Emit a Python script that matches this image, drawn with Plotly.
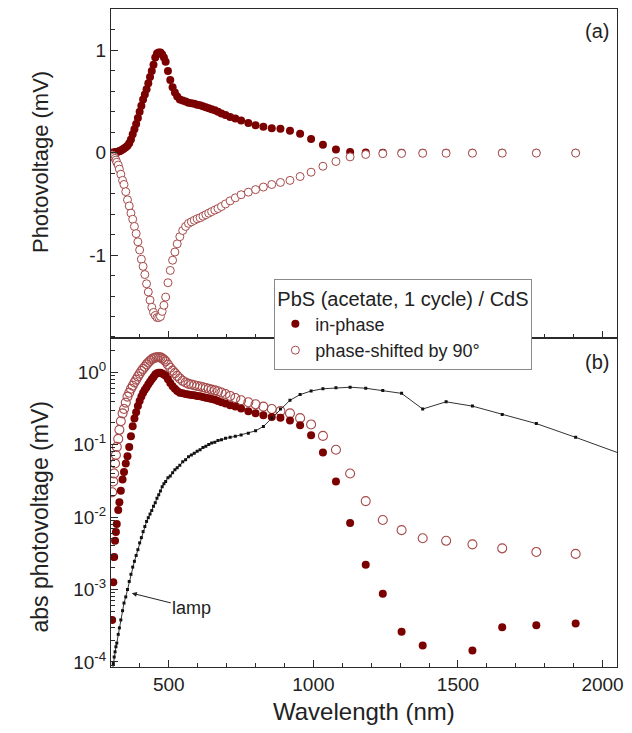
import numpy as np
import plotly.graph_objects as go

# ---------------- data ----------------
wavelength = [304, 308, 311, 314, 317, 320, 325, 329, 334, 340, 345, 351, 357, 363, 369,
              375, 381, 387, 393, 399, 405, 411, 417, 423, 429, 435, 441, 447, 453, 459,
              465, 471, 477, 483, 489, 497, 505, 513, 521, 529, 538, 548, 558, 568, 578,
              588, 598, 608, 618, 628, 638, 648, 659, 670, 682, 696, 712, 730, 750, 775,
              800, 827, 856, 886, 919, 954, 992, 1033, 1078, 1127, 1181, 1240, 1305, 1378,
              1459, 1550, 1653, 1771, 1907]

in_phase = [0.00038, 0.00126, 0.0028, 0.0047, 0.0062, 0.008, 0.0125, 0.016, 0.023, 0.033,
            0.042, 0.055, 0.069, 0.093, 0.13, 0.18, 0.23, 0.28, 0.34, 0.40,
            0.46, 0.52, 0.57, 0.62, 0.68, 0.74, 0.80, 0.86, 0.93, 0.97,
            0.98, 0.98, 0.96, 0.93, 0.89, 0.80, 0.71, 0.64, 0.59, 0.55,
            0.52, 0.51, 0.50, 0.49, 0.485, 0.48, 0.47, 0.465, 0.455, 0.445,
            0.435, 0.425, 0.415, 0.40, 0.385, 0.37, 0.35, 0.335, 0.315, 0.29,
            0.27, 0.255, 0.24, 0.235, 0.215, 0.185, 0.135, 0.078, 0.031, 0.0083,
            0.0022, 0.00087, 0.00026, 0.000168, 0.00006, 0.000144, 0.0003, 0.00032, 0.00034]

phase_90 = [-0.022, -0.031, -0.040, -0.055, -0.072, -0.093, -0.12, -0.16, -0.21, -0.27,
            -0.31, -0.38, -0.46, -0.52, -0.59, -0.65, -0.72, -0.79, -0.87, -0.95,
            -1.04, -1.11, -1.19, -1.28, -1.36, -1.44, -1.51, -1.56, -1.59, -1.61,
            -1.61, -1.60, -1.55, -1.49, -1.41, -1.27, -1.15, -1.05, -0.97, -0.89,
            -0.82, -0.76, -0.72, -0.69, -0.675, -0.66, -0.645, -0.635, -0.62, -0.605,
            -0.59, -0.575, -0.56, -0.545, -0.525, -0.50, -0.47, -0.44, -0.41, -0.385,
            -0.36, -0.335, -0.31, -0.29, -0.27, -0.232, -0.19, -0.132, -0.085, -0.040,
            -0.0166, -0.0091, -0.0066, -0.0051, -0.0047, -0.0042, -0.0037, -0.0033, -0.0031]

lamp_wavelength = wavelength + [2066]
lamp = [7.1e-5, 9.5e-5, 1.17e-4, 1.38e-4, 1.62e-4, 1.82e-4, 2.4e-4, 2.95e-4, 3.8e-4, 5.1e-4,
        6.5e-4, 7.9e-4, 1.0e-3, 1.29e-3, 1.62e-3, 2.04e-3, 2.45e-3, 2.95e-3, 3.55e-3, 4.4e-3,
        5.2e-3, 6.3e-3, 7.4e-3, 8.7e-3, 9.8e-3, 1.1e-2, 1.23e-2, 1.41e-2, 1.58e-2, 1.82e-2,
        2.04e-2, 2.29e-2, 2.63e-2, 2.88e-2, 3.1e-2, 3.5e-2, 3.7e-2, 4.1e-2, 4.5e-2, 4.8e-2,
        5.2e-2, 5.8e-2, 6.2e-2, 6.8e-2, 7.2e-2, 7.6e-2, 8.1e-2, 8.5e-2, 9.1e-2, 9.5e-2,
        0.100, 0.105, 0.108, 0.114, 0.117, 0.122, 0.126, 0.130, 0.136, 0.143,
        0.155, 0.178, 0.234, 0.31, 0.41, 0.49, 0.55, 0.59, 0.61, 0.62,
        0.60, 0.56, 0.51, 0.31, 0.39, 0.34, 0.26, 0.195, 0.126, 0.074]

x_major_ticks = [500, 1000, 1500, 2000]
y_top_ticks = [-1, 0, 1]
y_top_labels = ["-1", "0", "1"]
y_log_ticks = [1e-4, 1e-3, 1e-2, 1e-1, 1]
y_log_labels = ["10<sup>-4</sup>", "10<sup>-3</sup>", "10<sup>-2</sup>",
                "10<sup>-1</sup>", "10<sup>0</sup>"]
legend_title = "PbS (acetate, 1 cycle) / CdS"
names = ["in-phase", "phase-shifted by 90°"]

# ---------------- styling ----------------
FILL = "#7b0000"
RING = "#a64a4a"
AXC = "#2a2a2a"
FONT = "Liberation Sans, Arial, sans-serif"
TICKF = 19

fig = go.Figure()

# top panel
fig.add_trace(go.Scatter(x=wavelength, y=in_phase, mode="markers", name=names[0],
                         marker=dict(size=8, color=FILL), xaxis="x", yaxis="y"))
fig.add_trace(go.Scatter(x=wavelength, y=phase_90, mode="markers", name=names[1],
                         marker=dict(size=8, color="white", line=dict(color=RING, width=1)),
                         xaxis="x", yaxis="y"))

# bottom panel
fig.add_trace(go.Scatter(x=wavelength, y=np.abs(phase_90), mode="markers", showlegend=False,
                         marker=dict(size=9, symbol="circle-open", color=RING, line=dict(width=1.1)),
                         xaxis="x2", yaxis="y2"))
fig.add_trace(go.Scatter(x=wavelength, y=np.abs(in_phase), mode="markers", showlegend=False,
                         marker=dict(size=8, color=FILL), xaxis="x2", yaxis="y2"))
fig.add_trace(go.Scatter(x=lamp_wavelength, y=lamp, mode="lines+markers", showlegend=False,
                         line=dict(color="#333333", width=1),
                         marker=dict(size=3, symbol="square", color="#111111"),
                         xaxis="x2", yaxis="y2"))

split = 329 / 659.0
minor_log = [m * 10.0 ** e for e in range(-5, 1) for m in range(2, 10)]

common_x = dict(range=[300, 2050], showline=True, mirror=True, linecolor=AXC, linewidth=1,
                ticks="inside", ticklen=7, tickcolor=AXC,
                tickmode="array", tickvals=x_major_ticks,
                minor=dict(ticks="inside", ticklen=4, dtick=100, tick0=0, tickcolor=AXC),
                showgrid=False, zeroline=False, tickfont=dict(size=TICKF))

fig.update_layout(
    width=632, height=733,
    margin=dict(l=111, r=13, t=8, b=66),
    paper_bgcolor="white", plot_bgcolor="white",
    font=dict(family=FONT, color="#222222", size=17),
    xaxis=dict(domain=[0, 1], anchor="y", showticklabels=False, **common_x),
    xaxis2=dict(domain=[0, 1], anchor="y2", showticklabels=True, **common_x),
    yaxis=dict(domain=[split, 1], anchor="x", range=[-1.815, 1.405],
               tickmode="array", tickvals=y_top_ticks, ticktext=y_top_labels,
               showline=True, mirror=True, linecolor=AXC, linewidth=1,
               ticks="inside", ticklen=7, tickcolor=AXC,
               minor=dict(ticks="inside", ticklen=4, dtick=0.2, tick0=0, tickcolor=AXC),
               showgrid=False, zeroline=False, tickfont=dict(size=TICKF)),
    yaxis2=dict(domain=[0, split], anchor="x2", type="log", range=[-4.07, 0.465],
                tickmode="array", tickvals=y_log_ticks, ticktext=y_log_labels,
                showline=True, mirror=True, linecolor=AXC, linewidth=1,
                ticks="inside", ticklen=7, tickcolor=AXC,
                minor=dict(ticks="inside", ticklen=4, tickmode="array", tickvals=minor_log,
                           tickcolor=AXC),
                showgrid=False, zeroline=False, tickfont=dict(size=TICKF)),
    legend=dict(x=(275 - 111) / 508.0, y=(667 - 278) / 659.0, xanchor="left", yanchor="top",
                bgcolor="white", bordercolor="#8a8a8a", borderwidth=1,
                title=dict(text=legend_title, font=dict(size=20)),
                font=dict(size=18), tracegroupgap=0),
    showlegend=True,
    annotations=[
        dict(text="(a)", xref="paper", yref="paper", x=0.988, y=(667 - 30) / 659.0,
             xanchor="right", yanchor="middle", showarrow=False, font=dict(size=20)),
        dict(text="(b)", xref="paper", yref="paper", x=0.988, y=(667 - 362) / 659.0,
             xanchor="right", yanchor="middle", showarrow=False, font=dict(size=20)),
        dict(text="Photovoltage (mV)", xref="paper", yref="paper", x=(40 - 111) / 508.0,
             y=(667 - 161) / 659.0, textangle=-90, showarrow=False, font=dict(size=22),
             xanchor="center", yanchor="middle"),
        dict(text="abs photovoltage (mV)", xref="paper", yref="paper", x=(40 - 111) / 508.0,
             y=(667 - 517) / 659.0, textangle=-90, showarrow=False, font=dict(size=23),
             xanchor="center", yanchor="middle"),
        dict(text="Wavelength (nm)", xref="paper", yref="paper", x=0.5,
             y=(667 - 712) / 659.0, showarrow=False, font=dict(size=24),
             xanchor="center", yanchor="middle"),
        dict(text="lamp", xref="x2", yref="y2", x=372, y=float(np.log10(8.9e-4)),
             ax=60, ay=15, showarrow=True, arrowhead=2, arrowsize=1, arrowwidth=1,
             arrowcolor="#222222", font=dict(size=18)),
    ],
)

fig.write_html("out.html")
